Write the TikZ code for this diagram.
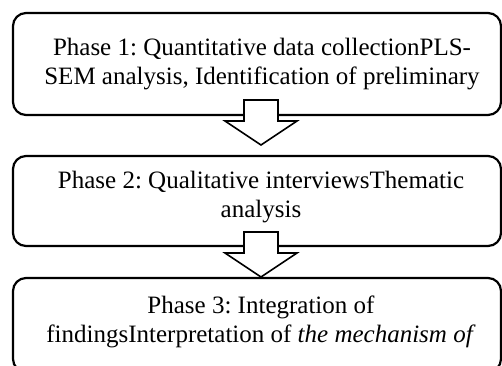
\documentclass[tikz,border=0pt]{standalone}
\usepackage{fontspec}
\setmainfont{Liberation Serif}
\usetikzlibrary{calc}
\frenchspacing
\begin{document}
\begin{tikzpicture}[x=1pt,y=1pt,
  phasebox/.style={draw=black, line width=2.2pt, rounded corners=13pt, fill=white, inner sep=0pt, outer sep=0pt, minimum width=488pt},
  phasetext/.style={align=center, inner sep=0pt, font=\fontsize{25}{29.5}\selectfont},
  blockarrow/.style={draw=black, line width=1.6pt, fill=white, line join=miter}]
\useasboundingbox (0,0) rectangle (502,-365);
\begin{scope}
\clip (0,0) rectangle (502,-365);
% boxes
\node[phasebox, minimum height=102pt] (b1) at (257,-64) {};
\node[phasebox, minimum height=90pt] (b2) at (257,-201) {};
\node[phasebox, minimum height=94pt] (b3) at (257,-325) {};
% texts
\node[phasetext] (t1) at (262,-64) {Phase 1: Quantitative data collectionPLS-\\SEM analysis, Identification of preliminary};
\node[phasetext] (t2) at (261,-197) {Phase 2: Qualitative interviewsThematic\\analysis};
\node[phasetext] (t3) at (261,-322) {Phase 3: Integration of\\findingsInterpretation of \textit{the mechanism of}};
% arrows
\coordinate (a1) at ($(b1.south)+(4,15)$);
\coordinate (a2) at ($(b2.south)+(4,14)$);
\foreach \a/\L in {a1/45, a2/45}{
  \draw[blockarrow] ($(\a)+(-17,0)$) -- ($(\a)+(-17,-21)$) -- ($(\a)+(-36,-21)$) -- ($(\a)+(0,-\L)$) -- ($(\a)+(36,-21)$) -- ($(\a)+(17,-21)$) -- ($(\a)+(17,0)$) -- cycle;
}
\end{scope}
\end{tikzpicture}
\end{document}
